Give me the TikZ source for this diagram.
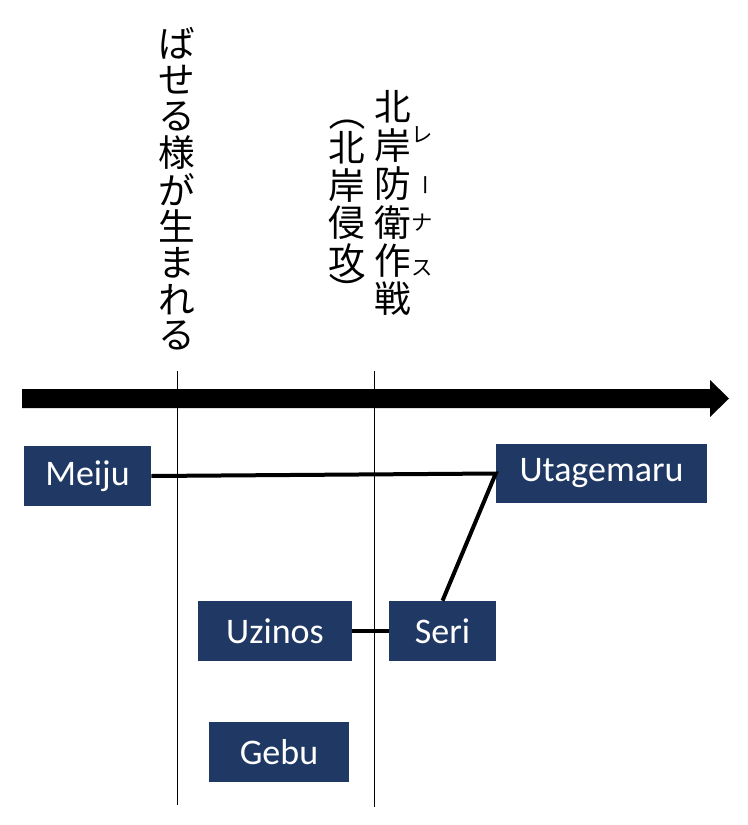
\documentclass[tikz,border=0pt]{standalone}
\usepackage{fontspec}
\usepackage{tikz}
\setmainfont{Carlito}
\newfontfamily\jpfont{Noto Sans CJK JP}
\definecolor{boxblue}{HTML}{203864}

\tikzset{
  person/.style={fill=boxblue, text=white, inner sep=0pt, minimum height=45pt,
    font=\fontsize{27}{32}\selectfont},
  tate/.style={inner sep=0pt, font=\jpfont\fontsize{27.5}{30}\selectfont},
  ruby/.style={inner sep=0pt, font=\jpfont\fontsize{16}{18}\selectfont},
  link/.style={line width=3pt},
  era/.style={line width=0.75pt}
}

\begin{document}
\begin{tikzpicture}[x=0.75pt,y=0.75pt,yscale=-1]
\useasboundingbox (0,0) rectangle (747,825);

%Time axis arrow
\fill (22,389) -- (710,389) -- (710,380) -- (729,398.5) -- (710,417) -- (710,408) -- (22,408) -- cycle ;

%Era lines
\coordinate (e1top) at (177,371);
\coordinate (e1bot) at (177,805);
\coordinate (e2top) at (374,371);
\coordinate (e2bot) at (374,807);
\draw [era] (e1top) -- (e1bot) ;
\draw [era] (e2top) -- (e2bot) ;

% Vertical text, first line
\foreach \ch [count=\i from 0] in {ば,せ,る,様,が,生,ま,れ,る}
  \draw (177,43+36.6*\i) node [tate] (ta-\i) {\ch};

% Vertical text, second line
\foreach \ch [count=\i from 0] in {北,岸,防,衛,作,戦}
  \draw (393,107+38.4*\i) node [tate] (tb-\i) {\ch};
\draw (347,113) node [tate, rotate=-90] (pl) {（};
\foreach \ch [count=\i from 0] in {北,岸,侵,攻}
  \draw (347,148+37.4*\i) node [tate] (tc-\i) {\ch};
\draw (347,291) node [tate, rotate=-90] (pr) {）};

% Ruby
\draw (422,135) node [ruby] (r1) {レ};
\draw (422,185) node [ruby, rotate=-90] (r2) {ー};
\draw (422,223) node [ruby] (r3) {ナ};
\draw (422,268) node [ruby] (r4) {ス};

% Person boxes
\draw (87.5,476) node [person, minimum width=95.25pt] (meiju) {Meiju};
\draw (601.5,473.5) node [person, minimum width=158.25pt, minimum height=44.25pt] (utagemaru) {Utagemaru};
\draw (275,631) node [person, minimum width=115.5pt] (uzinos) {Uzinos};
\draw (442.5,631) node [person, minimum width=80.25pt] (seri) {Seri};
\draw (279,752) node [person, minimum width=105pt] (gebu) {Gebu};

% Links
\draw [link] (meiju.east) -- (utagemaru.west) -- (seri.north) ;
\draw [link] (uzinos.east) -- (seri.west) ;

\end{tikzpicture}
\end{document}
